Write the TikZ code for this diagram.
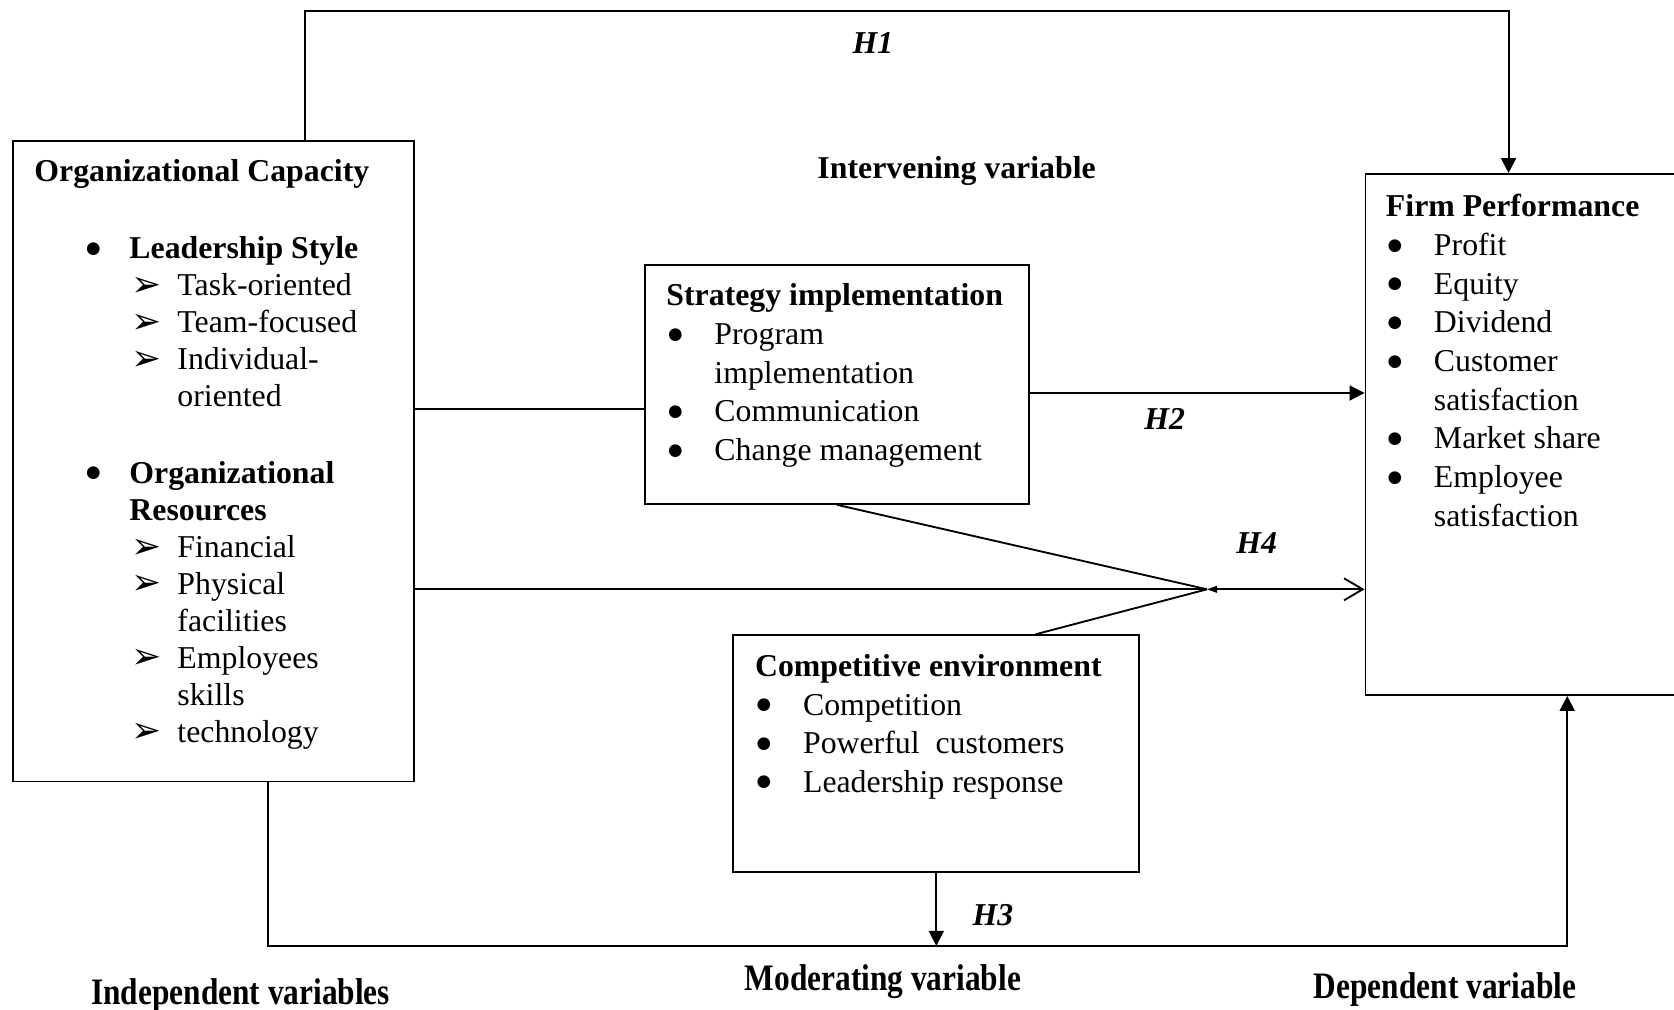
\documentclass[tikz,border=0pt]{standalone}
\usepackage{fontspec}
\setmainfont{Liberation Serif}
\newfontfamily\arwfont{DejaVu Sans}
\usetikzlibrary{arrows.meta}

\newcommand{\fst}{\rule{0pt}{20pt}}
\newcommand{\bigbul}{\raisebox{4.2pt}{\arwfont\fontsize{12.5}{12.5}\selectfont ●}}
\newcommand{\itm}[1]{\makebox[36pt][l]{\hspace{1.2pt}\bigbul}#1}
\newcommand{\cnt}[1]{\hspace*{36pt}#1}
\newcommand{\grpitm}[1]{\hspace*{38.7pt}\makebox[32.55pt][l]{\bigbul}\textbf{#1}}
\newcommand{\grpcnt}[1]{\hspace*{71.25pt}\textbf{#1}}
\newcommand{\subitm}[1]{\hspace*{72.8pt}\makebox[34.45pt][l]{\raisebox{-0.5pt}[0pt][0pt]{\arwfont\fontsize{27}{27}\selectfont ➢}}#1}
\newcommand{\subcnt}[1]{\hspace*{107.25pt}#1}
\newcommand{\varlabel}[1]{\scalebox{0.84}[1]{\fontsize{28}{32}\selectfont\textbf{#1}}}

\tikzset{
  box/.style={draw, line width=1.4pt, inner sep=0pt},
  txt/.style={anchor=north west, inner sep=0pt, align=left},
  lbl/.style={anchor=base, inner sep=0pt},
  ln/.style={line width=1.4pt},
  arr/.style={ln, -{Triangle[length=11.25pt,width=11.25pt]}}
}

\begin{document}
\begin{tikzpicture}[x=0.75pt,y=0.75pt,yscale=-1,xscale=1,font=\fontsize{23.85}{29}\selectfont]
\useasboundingbox (0,0) rectangle (1674,1010);
%Boxes
\node[box, minimum width=301pt, minimum height=480.5pt] (lc) at (213.5,461.2) {};
\node[box, minimum width=288.3pt, minimum height=179.3pt] (si) at (837,384.35) {};
\node[box, minimum width=304.35pt, minimum height=177.75pt] (ce) at (936.3,753.7) {};
\node[box, minimum width=243.4pt, minimum height=390.75pt] (fp) at (1527.75,434.5) {};
% Text Node
\node[txt, font=\fontsize{23.85}{27.7}\selectfont] (lctxt) at (34.2,154.3) {\fst\textbf{Organizational Capacity}\\[30.5pt]
  \grpitm{Leadership Style}\\ \subitm{Task-oriented}\\ \subitm{Team-focused}\\
  \subitm{Individual-}\\ \subcnt{oriented}\\[30pt]
  \grpitm{Organizational}\\ \grpcnt{Resources}\\ \subitm{Financial}\\
  \subitm{Physical}\\ \subcnt{facilities}\\ \subitm{Employees}\\ \subcnt{skills}\\
  \subitm{technology}};
% Text Node
\node[txt] (sitxt) at (666.2,279) {\fst\textbf{Strategy implementation}\\
  \itm{Program}\\ \cnt{implementation}\\ \itm{Communication}\\ \itm{Change management}};
% Text Node
\node[txt] (cetxt) at (754.8,649.5) {\fst\textbf{Competitive environment}\\
  \itm{Competition}\\ \itm{Powerful\ \ customers}\\ \itm{Leadership response}};
% Text Node
\node[txt] (fptxt) at (1385.7,190) {\fst\textbf{Firm Performance}\\
  \itm{Profit}\\ \itm{Equity}\\ \itm{Dividend}\\ \itm{Customer}\\ \cnt{satisfaction}\\
  \itm{Market share}\\ \itm{Employee}\\ \cnt{satisfaction}};
%Straight Lines
\coordinate (tl) at (305.3,10.7);
\coordinate (bl) at (268,945.9);
\coordinate (jn) at (1207,589.3);
\draw[arr] (lc.north -| tl) -- (tl) -| ([xshift=-14.4pt]fp.north);
\draw[ln] (lc.east |- 0,409) -- (si.west |- 0,409);
\draw[arr] (si.east |- 0,393) -- (fp.west |- 0,393);
\draw[ln] (si.south) -- (jn);
\draw[ln] ([xshift=74.5pt]ce.north) -- (jn);
\draw[ln] (lc.east |- jn) -- (jn);
\draw[ln, {Triangle[length=7.5pt,width=5pt]}-{Straight Barb[length=14pt,width=16.5pt]}] (jn) -- (fp.west |- jn);
\draw[arr] (lc.south -| bl) -- (bl) -| ([xshift=29.6pt]fp.south);
\draw[arr] (ce.south) -- (ce.south |- bl);
% Text Node
\node[lbl] (h1) at (873,53) {\textbf{\textit{H1}}};
\node[lbl] (iv) at (956.6,178) {\textbf{Intervening variable}};
\node[lbl] (h2) at (1164.8,429) {\textbf{\textit{H2}}};
\node[lbl] (h4) at (1256.6,553) {\textbf{\textit{H4}}};
\node[lbl] (h3) at (992.9,925.5) {\textbf{\textit{H3}}};
\node[lbl] (indep) at (240.7,1004) {\varlabel{Independent variables}};
\node[lbl] (modv) at (882.9,990) {\varlabel{Moderating variable}};
\node[lbl] (depv) at (1445,998) {\varlabel{Dependent variable}};
\end{tikzpicture}
\end{document}
